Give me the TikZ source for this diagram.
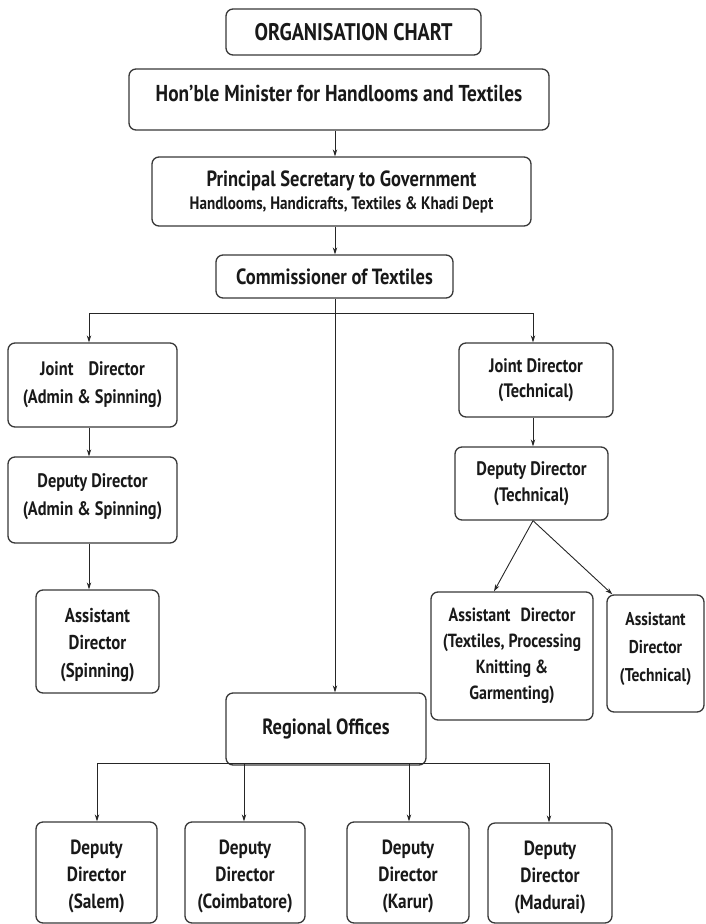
\documentclass[tikz,border=0pt]{standalone}
\usepackage{fontspec}
\setmainfont{PT Sans}[FakeStretch=0.84]
\usetikzlibrary{arrows.meta,calc}
\newcommand\myfs[2]{\fontsize{#1}{#2}\selectfont}
\newcommand\topgap[1]{\rule{0pt}{#1}}
\begin{document}
\begin{tikzpicture}[x=1pt,y=-1pt,
  box/.style={draw=black!78,line width=1.3pt,rounded corners=7pt,fill=white,align=center,inner sep=0pt,text=black!90},
  conn/.style={draw=black!85,line width=0.9pt},
  arr/.style={conn,-{Stealth[length=7pt,width=4.5pt]}},
]
\useasboundingbox (0,0) rectangle (705,924);
% top chain
\node[box,font=\bfseries\myfs{24}{28},minimum width=255pt,minimum height=46pt] (title) at (353.5,32) {ORGANISATION CHART};
\node[box,font=\bfseries\myfs{23}{27},minimum width=420pt,minimum height=61pt,text height=17pt,text depth=13pt] (minister) at (339,99.5) {Hon’ble Minister for Handlooms and Textiles};
\node[box,font=\bfseries\myfs{22}{24},minimum width=379pt,minimum height=69pt] (principal) at (341.5,191.5) {Principal Secretary to Government\\[-1pt]{\myfs{18}{20}Handlooms, Handicrafts, Textiles \& Khadi Dept}};
\node[box,font=\bfseries\myfs{22}{26},minimum width=237pt,minimum height=43pt] (comm) at (334.5,276.5) {Commissioner of Textiles};
% left branch
\node[box,font=\bfseries\myfs{19.5}{28},minimum width=169pt,minimum height=84pt] (jd1) at (92.5,385) {Joint\hspace{15pt}Director\\(Admin \& Spinning)};
\node[box,font=\bfseries\myfs{19.5}{28},minimum width=169pt,minimum height=86pt,text depth=10pt] (dd1) at (92.5,500) {Deputy Director\\(Admin \& Spinning)};
\node[box,font=\bfseries\myfs{20}{27.5},minimum width=123pt,minimum height=103pt] (ad1) at (97.5,641.5) {\topgap{21pt}Assistant\\Director\\(Spinning)};
% right branch
\node[box,font=\bfseries\myfs{19.5}{25},minimum width=154pt,minimum height=74pt,text depth=4pt] (jd2) at (536,380) {Joint Director\\(Technical)};
\node[box,font=\bfseries\myfs{19.5}{26},minimum width=153pt,minimum height=73pt] (dd2) at (531.5,483.5) {Deputy Director\\(Technical)};
\node[box,font=\bfseries\myfs{19}{26},minimum width=162pt,minimum height=128pt] (ad2) at (512,656) {Assistant\hspace{10pt}Director\\(Textiles, Processing\\Knitting \&\\Garmenting)};
\node[box,font=\bfseries\myfs{18.5}{28},minimum width=97pt,minimum height=117pt,text depth=14pt] (ad3) at (655.5,653.5) {Assistant\\Director\\(Technical)};
% regional
\node[box,font=\bfseries\myfs{22}{24},minimum width=200pt,minimum height=72pt] (reg) at (326,729) {Regional Offices};
\node[box,font=\bfseries\myfs{20.5}{27},minimum width=121pt,minimum height=101pt] (salem) at (96.5,872.5) {\topgap{23pt}Deputy\\Director\\(Salem)};
\node[box,font=\bfseries\myfs{20.5}{27},minimum width=120pt,minimum height=101pt] (coim) at (245,872.5) {\topgap{23pt}Deputy\\Director\\(Coimbatore)};
\node[box,font=\bfseries\myfs{20.5}{27},minimum width=122pt,minimum height=101pt] (karur) at (408,872.5) {\topgap{23pt}Deputy\\Director\\(Karur)};
\node[box,font=\bfseries\myfs{20.5}{27},minimum width=124pt,minimum height=100pt] (madu) at (550,873) {\topgap{23pt}Deputy\\Director\\(Madurai)};
% coordinates
\coordinate (cx) at (335,0);
\coordinate (bl) at (89,313);
\coordinate (br) at (533,313);
\coordinate (t1) at (494,0);
\coordinate (rl) at (97,763);
\coordinate (rr) at (549,763);
\coordinate (x244) at (244,763);
\coordinate (x409) at (409,763);
% connectors
\draw[arr] (minister.south -| cx) -- (principal.north -| cx);
\draw[arr] (principal.south -| cx) -- (comm.north -| cx);
\draw[arr] (comm.south -| cx) -- (reg.north -| cx);
\draw[conn] (bl) -- (br);
\draw[arr] (bl) -- (jd1.north -| bl);
\draw[arr] (br) -- (jd2.north -| br);
\draw[arr] (jd1.south -| bl) -- (dd1.north -| bl);
\draw[arr] (dd1.south -| bl) -- (ad1.north -| bl);
\draw[arr] (jd2.south -| br) -- (dd2.north -| br);
\draw[arr] (dd2.south -| br) -- (ad2.north -| t1);
\draw[arr] (dd2.south -| br) -- ($(ad3.north west)+(6,0)$);
\draw[conn] (rl) -- (rr);
\draw[arr] (rl) -- (salem.north -| rl);
\draw[arr] (x244) -- (coim.north -| x244);
\draw[arr] (x409) -- (karur.north -| x409);
\draw[arr] (rr) -- (madu.north -| rr);
\end{tikzpicture}
\end{document}
